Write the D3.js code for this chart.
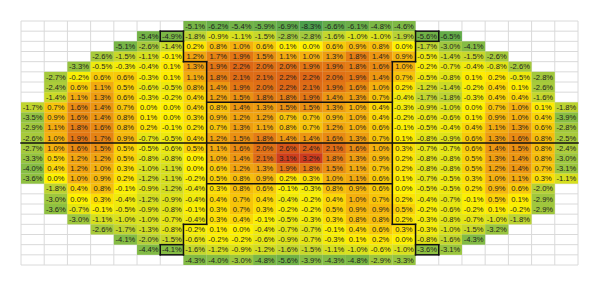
<!DOCTYPE html>
<html>
<head>
<meta charset="utf-8">
<script src="https://cdn.jsdelivr.net/npm/d3@7"></script>
<style>
  body { margin: 0; background: #fff; }
  svg { display: block; }
</style>
</head>
<body>
<div id="container-heat"></div>
<script>
const w = 600;
const h = 286;
const nCols = 24;
const nRows = 24;

// first filled column of each row
const rowStart = [7, 5, 4, 3, 2, 1, 1, 1, 0, 0, 0, 0, 0, 0, 0, 0, 1, 1, 1, 2, 3, 4, 5, 7];

const row00 = [-5.1, -6.2, -5.4, -5.9, -6.9, -8.3, -6.6, -6.1, -4.8, -4.6];
const row01 = [-5.4, -4.9, -1.8, -0.9, -1.1, -1.5, -2.8, -2.8, -1.6, -1.0, -1.0, -1.9, -5.6, -6.5];
const row02 = [-5.1, -2.6, -1.4, 0.2, 0.8, 1.0, 0.6, 0.1, 0.0, 0.6, 0.9, 0.8, 0.0, -1.7, -3.0, -4.1];
const row03 = [-2.6, -1.5, -1.1, -0.1, 1.2, 1.7, 1.9, 1.5, 1.1, 1.0, 1.3, 1.8, 1.4, 0.9, -0.5, -1.4, -1.5, -2.6];
const row04 = [-3.3, -0.5, -0.3, -0.4, 0.1, 1.3, 1.9, 2.2, 2.0, 2.0, 1.9, 1.9, 1.8, 1.6, 1.0, -0.2, -0.7, -0.4, -0.8, -2.6];
const row05 = [-2.7, -0.2, 0.6, 0.6, -0.3, 0.1, 1.1, 1.8, 2.1, 2.1, 2.2, 2.2, 2.0, 1.9, 1.4, 0.7, -0.5, -0.8, 0.1, 0.2, -0.5, -2.8];
const row06 = [-2.4, 0.6, 1.1, 0.5, -0.6, -0.5, 0.8, 1.4, 1.9, 2.0, 2.2, 2.1, 1.9, 1.6, 1.0, 0.2, -1.2, -1.4, -0.2, 0.4, 0.1, -2.6];
const row07 = [-1.4, 1.1, 1.3, 0.6, -0.3, -0.2, 0.4, 1.2, 1.5, 1.8, 1.8, 1.9, 1.4, 1.3, 0.7, -0.4, -1.7, -1.8, -0.3, 0.4, 0.4, -1.6];
const row08 = [-1.7, 0.7, 1.6, 1.4, 0.7, 0.0, 0.0, 0.4, 0.8, 1.4, 1.3, 1.5, 1.5, 1.3, 1.0, 0.4, -0.3, -0.9, -1.0, 0.0, 0.7, 1.0, 0.1, -1.8];
const row09 = [-3.5, 0.9, 1.6, 1.4, 0.8, 0.1, 0.0, 0.3, 0.9, 1.2, 1.2, 0.7, 0.7, 0.9, 1.0, 0.4, -0.2, -0.6, -0.6, 0.1, 0.9, 1.0, 0.4, -3.9];
const row10 = [-2.9, 1.1, 1.8, 1.6, 0.8, 0.2, -0.1, 0.2, 0.7, 1.3, 1.1, 0.8, 0.7, 1.2, 1.0, 0.6, -0.1, -0.5, -0.4, 0.4, 1.1, 1.3, 0.6, -2.8];
const row11 = [-2.6, 1.0, 1.9, 1.7, 0.9, -0.7, -0.5, 0.4, 1.2, 1.5, 1.8, 1.4, 1.4, 1.6, 1.3, 0.7, 0.1, -0.8, -0.9, 0.6, 1.3, 1.6, 0.8, -2.5];
const row12 = [-2.7, 1.0, 1.6, 1.5, 0.5, -0.5, -0.6, 0.5, 1.1, 1.6, 2.0, 2.6, 2.4, 2.1, 1.6, 1.0, 0.3, -0.7, -0.7, 0.6, 1.4, 1.5, 0.8, -2.4];
const row13 = [-3.3, 0.5, 1.2, 1.2, 0.5, -0.8, -0.8, 0.0, 1.0, 1.4, 2.1, 3.1, 3.2, 1.8, 1.3, 0.9, 0.2, -0.8, -0.8, 0.5, 1.3, 1.4, 0.8, -3.0];
const row14 = [-4.0, 0.4, 1.2, 1.0, 0.3, -1.0, -1.1, 0.0, 0.6, 1.2, 1.3, 1.9, 1.8, 1.5, 1.1, 0.7, 0.2, -0.8, -0.8, 0.5, 1.2, 1.4, 0.7, -3.1];
const row15 = [-3.6, 0.0, 1.0, 0.9, 0.2, -1.2, -1.1, -0.2, 0.5, 0.8, 0.9, 0.2, 0.3, 1.0, 1.1, 0.6, 0.1, -0.7, -0.5, 0.3, 1.0, 1.1, 0.3, -1.1];
const row16 = [-1.8, 0.4, 0.8, -0.1, -0.9, -1.2, -0.4, 0.3, 0.8, 0.6, -0.1, -0.3, 0.8, 0.9, 0.6, 0.0, -0.5, -0.5, 0.2, 0.9, 0.6, -2.0];
const row17 = [-3.0, 0.0, 0.3, -0.4, -1.2, -0.9, -0.4, 0.4, 0.7, 0.4, -0.4, -0.2, 0.4, 1.0, 0.7, 0.2, -0.4, -0.7, -0.1, 0.5, 0.1, -2.9];
const row18 = [-3.6, -0.7, -0.1, -0.5, -0.9, -0.8, -0.1, 0.3, 0.7, 0.3, -0.2, -0.2, 0.5, 0.9, 0.9, 0.5, -0.2, -0.6, -0.2, 0.1, -0.2, -2.9];
const row19 = [-3.0, -1.1, -1.0, -1.0, -0.7, -0.4, 0.3, 0.4, -0.1, -0.5, -0.3, 0.3, 0.8, 0.8, 0.2, -0.3, -0.8, -0.7, -1.0, -1.8];
const row20 = [-2.6, -1.7, -1.3, -0.8, -0.2, 0.1, 0.0, -0.4, -0.7, -0.7, -0.1, 0.4, 0.6, 0.3, -0.3, -1.0, -1.5, -3.2];
const row21 = [-4.1, -2.0, -1.5, -0.6, -0.2, -0.2, -0.6, -0.9, -0.7, -0.3, 0.1, 0.2, 0.0, -0.8, -1.6, -4.3];
const row22 = [-4.4, -4.1, -1.6, -1.2, -0.9, -1.2, -1.6, -1.5, -1.1, -1.0, -0.6, -1.0, -3.6, -3.1];
const row23 = [-4.3, -4.0, -3.0, -4.8, -5.6, -3.9, -4.3, -4.8, -2.9, -3.3];

const rows = [row00, row01, row02, row03, row04, row05, row06, row07, row08, row09, row10, row11,
              row12, row13, row14, row15, row16, row17, row18, row19, row20, row21, row22, row23];

// black border segments in grid units: [col1, row1, col2, row2]
const borders = [
    [6, 1, 6, 2], [6, 22, 6, 23], [18, 1, 18, 2], [18, 22, 18, 23],
    [7, 1, 7, 4], [7, 20, 7, 23], [17, 1, 17, 4], [17, 20, 17, 23],
    [8, 4, 8, 20], [16, 4, 16, 20],
    [6, 1, 7, 1], [6, 2, 7, 2], [17, 1, 18, 1], [17, 2, 18, 2],
    [6, 22, 7, 22], [6, 23, 7, 23], [17, 22, 18, 22], [17, 23, 18, 23],
    [7, 4, 8, 4], [16, 4, 17, 4], [7, 20, 8, 20], [16, 20, 17, 20],
    [8, 8, 16, 8], [8, 16, 16, 16],
    [0, 12, 24, 12]
];

const cells = [];
rows.forEach((vals, r) => {
    vals.forEach((v, i) => cells.push({ row: r, col: rowStart[r] + i, value: v }));
});

const xScale = d3.scaleLinear().domain([0, nCols]).range([21, 578]);
const yScale = d3.scaleLinear().domain([0, nRows]).range([21, 265]);

const colorScale = d3.scaleLinear()
    .domain([-8.3, -4, -2, 0, 1, 2, 3.2])
    .range(["#4c9f4c", "#86bd44", "#b5d037", "#fff100", "#f4b00e", "#e07015", "#cd3b1d"])
    .interpolate(d3.interpolateRgb);

const fmt = v => (v < 0 ? "-" : "") + Math.abs(v).toFixed(1) + "%";

const svg = d3.select("#container-heat")
    .append("svg")
    .attr("width", w)
    .attr("height", h)
    .style("background", "#fff");

// spreadsheet grid
svg.append("g")
    .selectAll("line.v")
    .data(d3.range(nCols + 1))
    .enter()
    .append("line")
    .attr("x1", d => xScale(d))
    .attr("x2", d => xScale(d))
    .attr("y1", yScale(0))
    .attr("y2", yScale(nRows))
    .attr("stroke", "#dadada")
    .attr("stroke-width", 1);

svg.append("g")
    .selectAll("line.h")
    .data(d3.range(nRows + 1))
    .enter()
    .append("line")
    .attr("x1", xScale(0))
    .attr("x2", xScale(nCols))
    .attr("y1", d => yScale(d))
    .attr("y2", d => yScale(d))
    .attr("stroke", "#dadada")
    .attr("stroke-width", 1);

svg.append("g")
    .selectAll("rect")
    .data(cells)
    .enter()
    .append("rect")
    .attr("x", d => xScale(d.col))
    .attr("y", d => yScale(d.row))
    .attr("width", d => xScale(d.col + 1) - xScale(d.col))
    .attr("height", d => yScale(d.row + 1) - yScale(d.row))
    .style("fill", d => colorScale(d.value));

svg.append("g")
    .selectAll("text")
    .data(cells)
    .enter()
    .append("text")
    .attr("x", d => (xScale(d.col) + xScale(d.col + 1)) / 2)
    .attr("y", d => (yScale(d.row) + yScale(d.row + 1)) / 2)
    .attr("dy", "0.36em")
    .attr("text-anchor", "middle")
    .style("font-family", "'Liberation Sans', Arial, sans-serif")
    .style("font-size", "7.6px")
    .style("fill", "#1e1e1e")
    .text(d => fmt(d.value));

svg.append("g")
    .selectAll("line")
    .data(borders)
    .enter()
    .append("line")
    .attr("x1", d => xScale(d[0]))
    .attr("y1", d => yScale(d[1]))
    .attr("x2", d => xScale(d[2]))
    .attr("y2", d => yScale(d[3]))
    .attr("stroke", "#111")
    .attr("stroke-width", 1.5)
    .attr("stroke-linecap", "square");
</script>
</body>
</html>
